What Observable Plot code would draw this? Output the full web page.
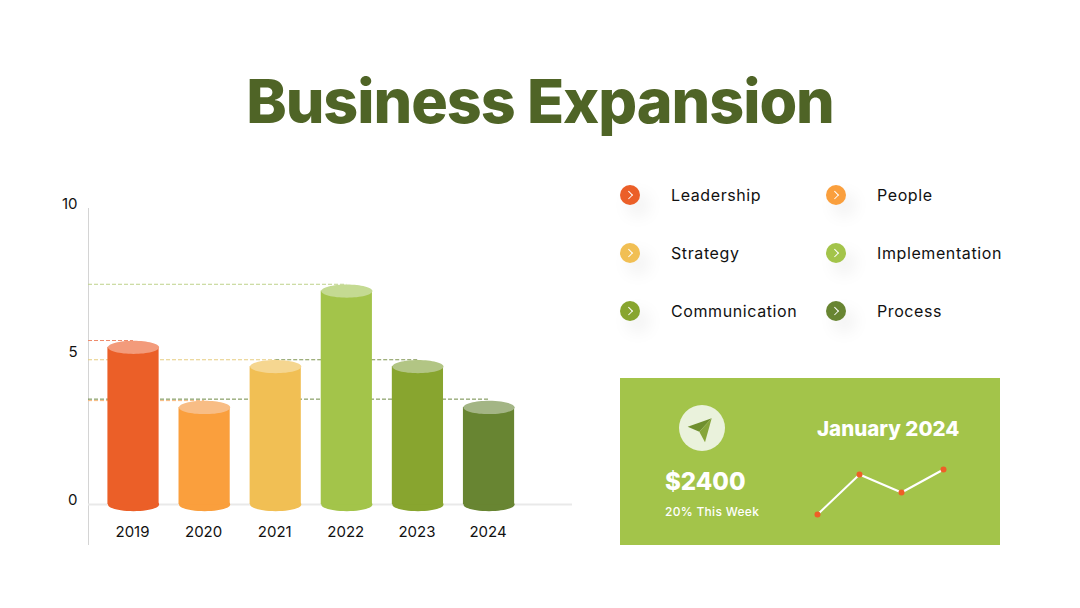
<!DOCTYPE html>
<html>
<head>
<meta charset="utf-8">
<script src="https://cdn.jsdelivr.net/npm/d3@7"></script>
<script src="https://cdn.jsdelivr.net/npm/@observablehq/plot@0.6"></script>
<style>
  html, body { margin: 0; padding: 0; background: #fff; }
  #page { position: relative; width: 1080px; height: 608px; overflow: hidden; font-family: Inter, sans-serif; }
  #page svg { position: absolute; overflow: visible; background: transparent; }
  .t { position: absolute; white-space: nowrap; line-height: 1; }
  #title { left: 0; width: 1080px; top: 71px; text-align: center; font-size: 61px; font-weight: 800; letter-spacing: -1.05px; color: #4f6426; }
  .name { font-size: 16px; color: #111; transform: translateY(-50%); letter-spacing: 0.6px; font-weight: 400; }
  .badge { position: absolute; width: 20px; height: 20px; border-radius: 50%; box-shadow: 8px 10px 18px rgba(0,0,0,.08); }
  .badge:after { content: ""; position: absolute; left: 6px; top: 7px; width: 4.5px; height: 4.5px; border-top: 1.2px solid #fff; border-right: 1.2px solid #fff; transform: rotate(45deg); }
  #card { position: absolute; left: 620px; top: 378px; width: 380px; height: 167px; background: #a3c44a; }
</style>
</head>
<body>
<div id="page">
  <div id="title" class="t">Business Expansion</div>
  <div id="card"></div>
</div>
<script>
const years = [2019, 2020, 2021, 2022, 2023, 2024];
const values = [5.31, 3.28, 4.66, 7.21, 4.66, 3.28];
const guideLevels = [5.54, 3.51, 4.89, 7.44, 4.89, 3.56];
const xDomain = [2018.367, 2025.174];
const guideStarts = [xDomain[0], xDomain[0], xDomain[0], xDomain[0], 2021, xDomain[0]];
const barColors = ["#eb5f28", "#fa9f3d", "#f1bf54", "#a3c44a", "#88a52f", "#688532"];
const capColors = ["#f39b7b", "#f8bd85", "#f5d690", "#c4da92", "#b2c584", "#a3b585"];
const guideColors = ["#ee8a6a", "#f5b77a", "#e6cc80", "#bfd28a", "#7f9550", "#6f8a45"];
const yTicks = [0, 5, 10];
const halfBar = 0.36;

const legendNames = ["Leadership", "People", "Strategy", "Implementation", "Communication", "Process"];

const sparkDays = [0, 1, 2, 3];
const sparkValues = [10, 30, 21, 32.5];

const rows = years.map((year, i) => ({
  year, value: values[i], level: guideLevels[i], start: guideStarts[i], bar: barColors[i], cap: capColors[i], guide: guideColors[i]
}));

// an ellipse as a custom Plot dot symbol (cylinder ends)
const ellipse = {
  draw(ctx, size) {
    const rx = Math.sqrt(size / Math.PI), ry = rx * 0.26, k = 0.5523;
    ctx.moveTo(rx, 0);
    ctx.bezierCurveTo(rx, ry * k, rx * k, ry, 0, ry);
    ctx.bezierCurveTo(-rx * k, ry, -rx, ry * k, -rx, 0);
    ctx.bezierCurveTo(-rx, -ry * k, -rx * k, -ry, 0, -ry);
    ctx.bezierCurveTo(rx * k, -ry, rx, -ry * k, rx, 0);
    ctx.closePath();
  }
};

const chart = Plot.plot({
  width: 1080, height: 608,
  marginTop: 208, marginBottom: 64, marginLeft: 88, marginRight: 508,
  style: { background: "transparent", fontFamily: "Inter, sans-serif", overflow: "visible" },
  x: { domain: xDomain, axis: null },
  y: { domain: [-1.351, 10], axis: null },
  color: { type: "identity" },
  marks: [
    Plot.frame({ anchor: "left", stroke: "#d4d4d4", strokeWidth: 1 }),
    Plot.ruleY([0], { stroke: "#e9e9e9", strokeWidth: 2 }),
    Plot.ruleY([...rows].reverse(), {
      y: "level", x1: "start", x2: "year", stroke: "guide", strokeWidth: 1, strokeDasharray: "4 2"
    }),
    Plot.dot(rows, { x: "year", y: () => 0, r: 25.6, symbol: ellipse, fill: "bar", stroke: null }),
    Plot.rectY(rows, { x1: d => d.year - halfBar, x2: d => d.year + halfBar, y1: () => 0, y2: "value", fill: "bar" }),
    Plot.dot(rows, { x: "year", y: "value", r: 25.6, symbol: ellipse, fill: "cap", stroke: null }),
    Plot.axisY({ ticks: yTicks, tickSize: 0, tickPadding: 11, dy: -4, fontSize: 15, fontVariant: "normal", fill: "#111", label: null, anchor: "left" }),
    Plot.axisX({ ticks: years, tickFormat: "d", tickSize: 0, tickPadding: 0, dy: -18, dx: -1, fontSize: 15, fontVariant: "normal", fill: "#111", label: null, anchor: "bottom" })
  ]
});
chart.style.left = "0px"; chart.style.top = "0px";
document.getElementById("page").appendChild(chart);

// legend
const page = document.getElementById("page");
legendNames.forEach((name, i) => {
  const col = i % 2, row = Math.floor(i / 2);
  const cy = 195 + row * 58;
  const badge = document.createElement("div");
  badge.className = "badge";
  badge.style.background = barColors[i];
  badge.style.left = (col ? 826 : 620) + "px";
  badge.style.top = (cy - 10) + "px";
  page.appendChild(badge);
  const label = document.createElement("div");
  label.className = "t name";
  label.textContent = name;
  label.style.left = (col ? 877 : 671) + "px";
  label.style.top = cy + "px";
  page.appendChild(label);
});

// card contents
const card = document.getElementById("card");
card.insertAdjacentHTML("beforeend", `
  <svg width="380" height="167" style="left:0;top:0">
    <circle cx="82" cy="50" r="23" fill="#eaf2dc"></circle>
    <path d="M91.7 40.3 L67.7 48.7 L79.3 53.7 Z" fill="#6f8f2e"></path>
    <path d="M91.7 40.3 L79.3 53.7 L85 64.3 Z" fill="#86a53a"></path>
  </svg>
  <div class="t" style="left:45px;top:92px;font-size:24px;font-weight:800;color:#fff;">$2400</div>
  <div class="t" style="left:45px;top:128px;font-size:12px;font-weight:500;letter-spacing:.3px;color:#fff;">20% This Week</div>
  <div class="t" style="left:197px;top:41px;font-size:20.5px;font-weight:800;color:#fff;">January 2024</div>
`);

const spark = Plot.plot({
  width: 380, height: 167,
  margin: 0,
  style: { background: "transparent", overflow: "visible" },
  x: { domain: [0, 3], range: [197, 323], axis: null },
  y: { domain: [0, 40], range: [156, 76], axis: null },
  marks: [
    Plot.line(sparkDays, { x: d => d, y: d => sparkValues[d], stroke: "#fff", strokeWidth: 2 }),
    Plot.dot(sparkDays, { x: d => d, y: d => sparkValues[d], r: 3, fill: "#ee5f27" })
  ]
});
spark.style.left = "0px"; spark.style.top = "0px";
card.appendChild(spark);
</script>
</body>
</html>
